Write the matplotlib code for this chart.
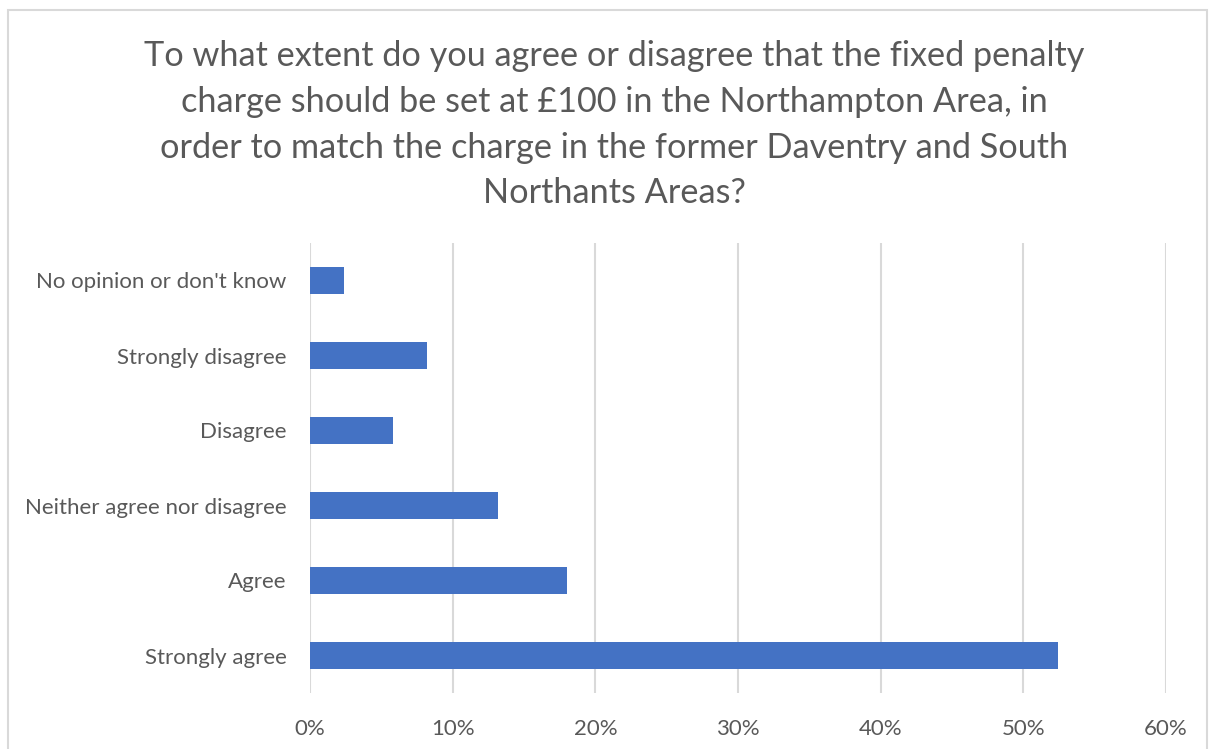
import matplotlib.pyplot as plt
from matplotlib.patches import Rectangle
from matplotlib.ticker import PercentFormatter

# answers, bottom to top as drawn
answers = ["Strongly agree", "Agree", "Neither agree nor disagree",
           "Disagree", "Strongly disagree", "No opinion or don't know"]
shares = [52.4, 18.0, 13.2, 5.8, 8.2, 2.4]
xticks = [0, 10, 20, 30, 40, 50, 60]

title = ("To what extent do you agree or disagree that the fixed penalty\n"
         "charge should be set at £100 in the Northampton Area, in\n"
         "order to match the charge in the former Daventry and South\n"
         "Northants Areas?")

plt.rcParams['font.family'] = ['Lato', 'DejaVu Sans']
txt = '#595959'

fig = plt.figure(figsize=(12.11, 7.49), dpi=100)
fig.patches.append(Rectangle((8/1211, -0.01), 1199/1211, 1 - 10/749 + 0.01,
                             transform=fig.transFigure, fill=False,
                             edgecolor='#d9d9d9', linewidth=1.5))

ax = fig.add_axes([310/1211, 1 - 693/749, 856/1211, 450/749])
ax.barh(range(len(answers)), shares, height=0.35, color='#4472c4', zorder=3)
ax.set_yticks(range(len(answers)))
ax.set_yticklabels(answers)
ax.set_ylim(-0.5, len(answers) - 0.5)
ax.set_xlim(0, 60)
ax.set_xticks(xticks)
ax.xaxis.set_major_formatter(PercentFormatter(decimals=0))
ax.grid(axis='x', color='#d9d9d9', linewidth=1.5, zorder=0)
for s in ax.spines.values():
    s.set_visible(False)
ax.tick_params(length=0, labelsize=16, labelcolor=txt)
ax.tick_params(axis='y', pad=17)
ax.tick_params(axis='x', pad=19)

fig.text(0.507, 1 - 40/749, title, ha='center', va='top', fontsize=24.7,
         color=txt, linespacing=1.53)

fig.savefig('out.png', dpi=100)
